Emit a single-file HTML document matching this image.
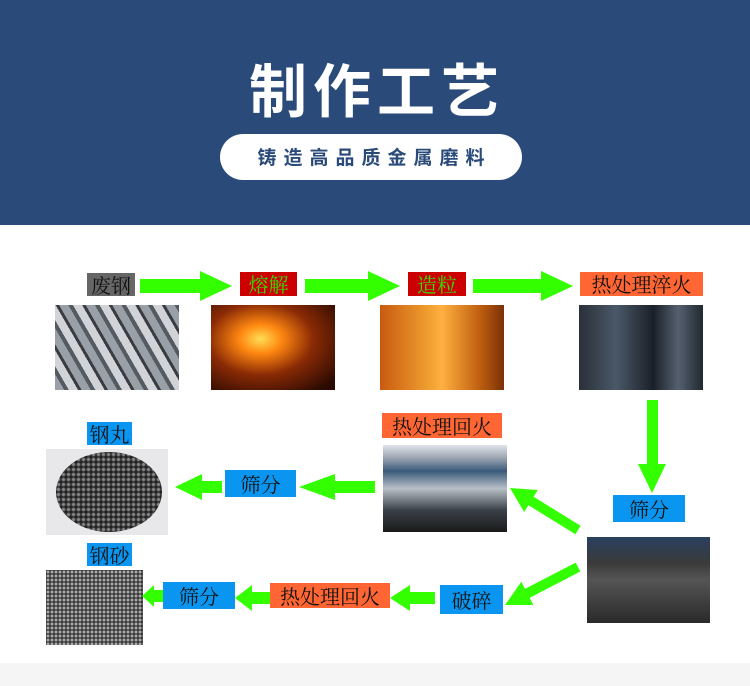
<!DOCTYPE html><html><head><meta charset="utf-8"><style>
body{margin:0;width:750px;height:686px;position:relative;background:#fff;overflow:hidden;font-family:"Liberation Sans","Noto Sans CJK SC",sans-serif}
.a{position:absolute}
.l{position:absolute;font-family:"Noto Serif CJK SC","Noto Sans CJK SC",serif;font-size:20px;line-height:1;display:flex;align-items:center;justify-content:center;color:#111}
.b{background:#0a96f0}.o{background:#ff6633}.r{background:#cc0000;color:#33dd00}.g{background:#666}
</style></head><body>
<div class="a" style="left:0;top:0;width:750px;height:225px;background:#2a4a7a"></div>
<div class="a" style="left:200px;top:52px;width:350px;text-align:center;color:#fff;font-size:58px;font-weight:bold;letter-spacing:6px;line-height:70px;font-family:'Noto Sans CJK SC',sans-serif;text-indent:4px">制作工艺</div>
<div class="a" style="left:220px;top:134px;width:302px;height:46px;border-radius:23px;background:#fff;color:#2a4a7a;font-size:19px;font-weight:bold;letter-spacing:7px;text-align:center;line-height:46px;font-family:'Noto Sans CJK SC',sans-serif;text-indent:7px">铸造高品质金属磨料</div>
<div class="a" style="left:0;top:663px;width:750px;height:23px;background:#f5f5f5"></div>

<div class="l g" style="left:87px;top:273px;width:48px;height:23px">废钢</div>
<div class="l r" style="left:240px;top:272px;width:57px;height:24px">熔解</div>
<div class="l r" style="left:408px;top:272px;width:58px;height:24px">造粒</div>
<div class="l o" style="left:580px;top:272px;width:123px;height:24px">热处理淬火</div>

<div class="a" style="left:55px;top:305px;width:124px;height:85px;background:repeating-linear-gradient(60deg,#9aa0a8 0 8px,#555a60 8px 12px,#d0d4d8 12px 20px,#3a3c40 20px 23px)"></div>
<div class="a" style="left:211px;top:305px;width:124px;height:85px;background:radial-gradient(ellipse at 40% 40%,#ffdd55 0,#ff8811 20%,#8a2a05 50%,#2a0a02 90%)"></div>
<div class="a" style="left:380px;top:305px;width:124px;height:85px;background:linear-gradient(90deg,#c85a10,#f0a030 40%,#ffb040 50%,#c06010 80%,#7a3008)"></div>
<div class="a" style="left:579px;top:305px;width:124px;height:85px;background:linear-gradient(90deg,#2a3038,#4a5868 30%,#1a2028 60%,#556070 80%,#202830)"></div>

<div class="l b" style="left:87px;top:422px;width:45px;height:23px">钢丸</div>
<div class="a" style="left:46px;top:449px;width:122px;height:86px;background:#e8e8ea"></div>
<div class="a" style="left:56px;top:452px;width:106px;height:80px;border-radius:50%;background:radial-gradient(circle,#888 1px,#222 2.5px) 0 0/5px 5px"></div>
<div class="l b" style="left:225px;top:470px;width:71px;height:27px">筛分</div>
<div class="l o" style="left:382px;top:413px;width:120px;height:25px">热处理回火</div>
<div class="a" style="left:383px;top:445px;width:124px;height:87px;background:linear-gradient(180deg,#e0e4ea 0,#9aa4b0 15%,#3a5a7a 30%,#b8c0c8 50%,#3a4048 75%,#1a1a1a)"></div>
<div class="l b" style="left:613px;top:495px;width:72px;height:27px">筛分</div>
<div class="a" style="left:587px;top:537px;width:123px;height:86px;background:linear-gradient(180deg,#2a4060,#3a3a3a 30%,#555 50%,#2a2a2a)"></div>
<div class="l b" style="left:440px;top:585px;width:63px;height:29px">破碎</div>
<div class="l o" style="left:270px;top:583px;width:120px;height:25px">热处理回火</div>
<div class="l b" style="left:163px;top:582px;width:72px;height:27px">筛分</div>
<div class="l b" style="left:87px;top:543px;width:45px;height:23px">钢砂</div>
<div class="a" style="left:46px;top:570px;width:97px;height:75px;background:radial-gradient(circle,#aaa 1px,#333 2px) 0 0/4px 4px"></div>

<svg class="a" style="left:0;top:0" width="750" height="686" fill="#33ff00">
<polygon points="140,279 200,279 200,271 232,286 200,301 200,293 140,293"/>
<polygon points="305,279 368,279 368,271 400,286 368,301 368,293 305,293"/>
<polygon points="473,279 541,279 541,271 573,286 541,301 541,293 473,293"/>
<polygon points="647,400 658,400 658,464 666,464 652,493 638,464 647,464"/>
<polygon points="375,481 335,481 335,474 299,487 335,500 335,493 375,493"/>
<polygon points="222,481 202,481 202,474 175,487 202,500 202,493 222,493"/>
<polygon points="580.6,525.8 533.6,496.8 537.8,490 510,488 524.2,512 528.4,505.2 575.4,534.2"/>
<polygon points="580.3,571.5 529.6,597.9 533.3,605 505,605 521.3,581.8 525,588.9 575.7,562.6"/>
<polygon points="435,592 410,592 410,585 390,598 410,611 410,604 435,604"/>
<polygon points="270,592 252,592 252,585 235,598 252,611 252,604 270,604"/>
<polygon points="163,590 154,590 154,585 142,596 154,607 154,602 163,602"/>
</svg>
</body></html>
